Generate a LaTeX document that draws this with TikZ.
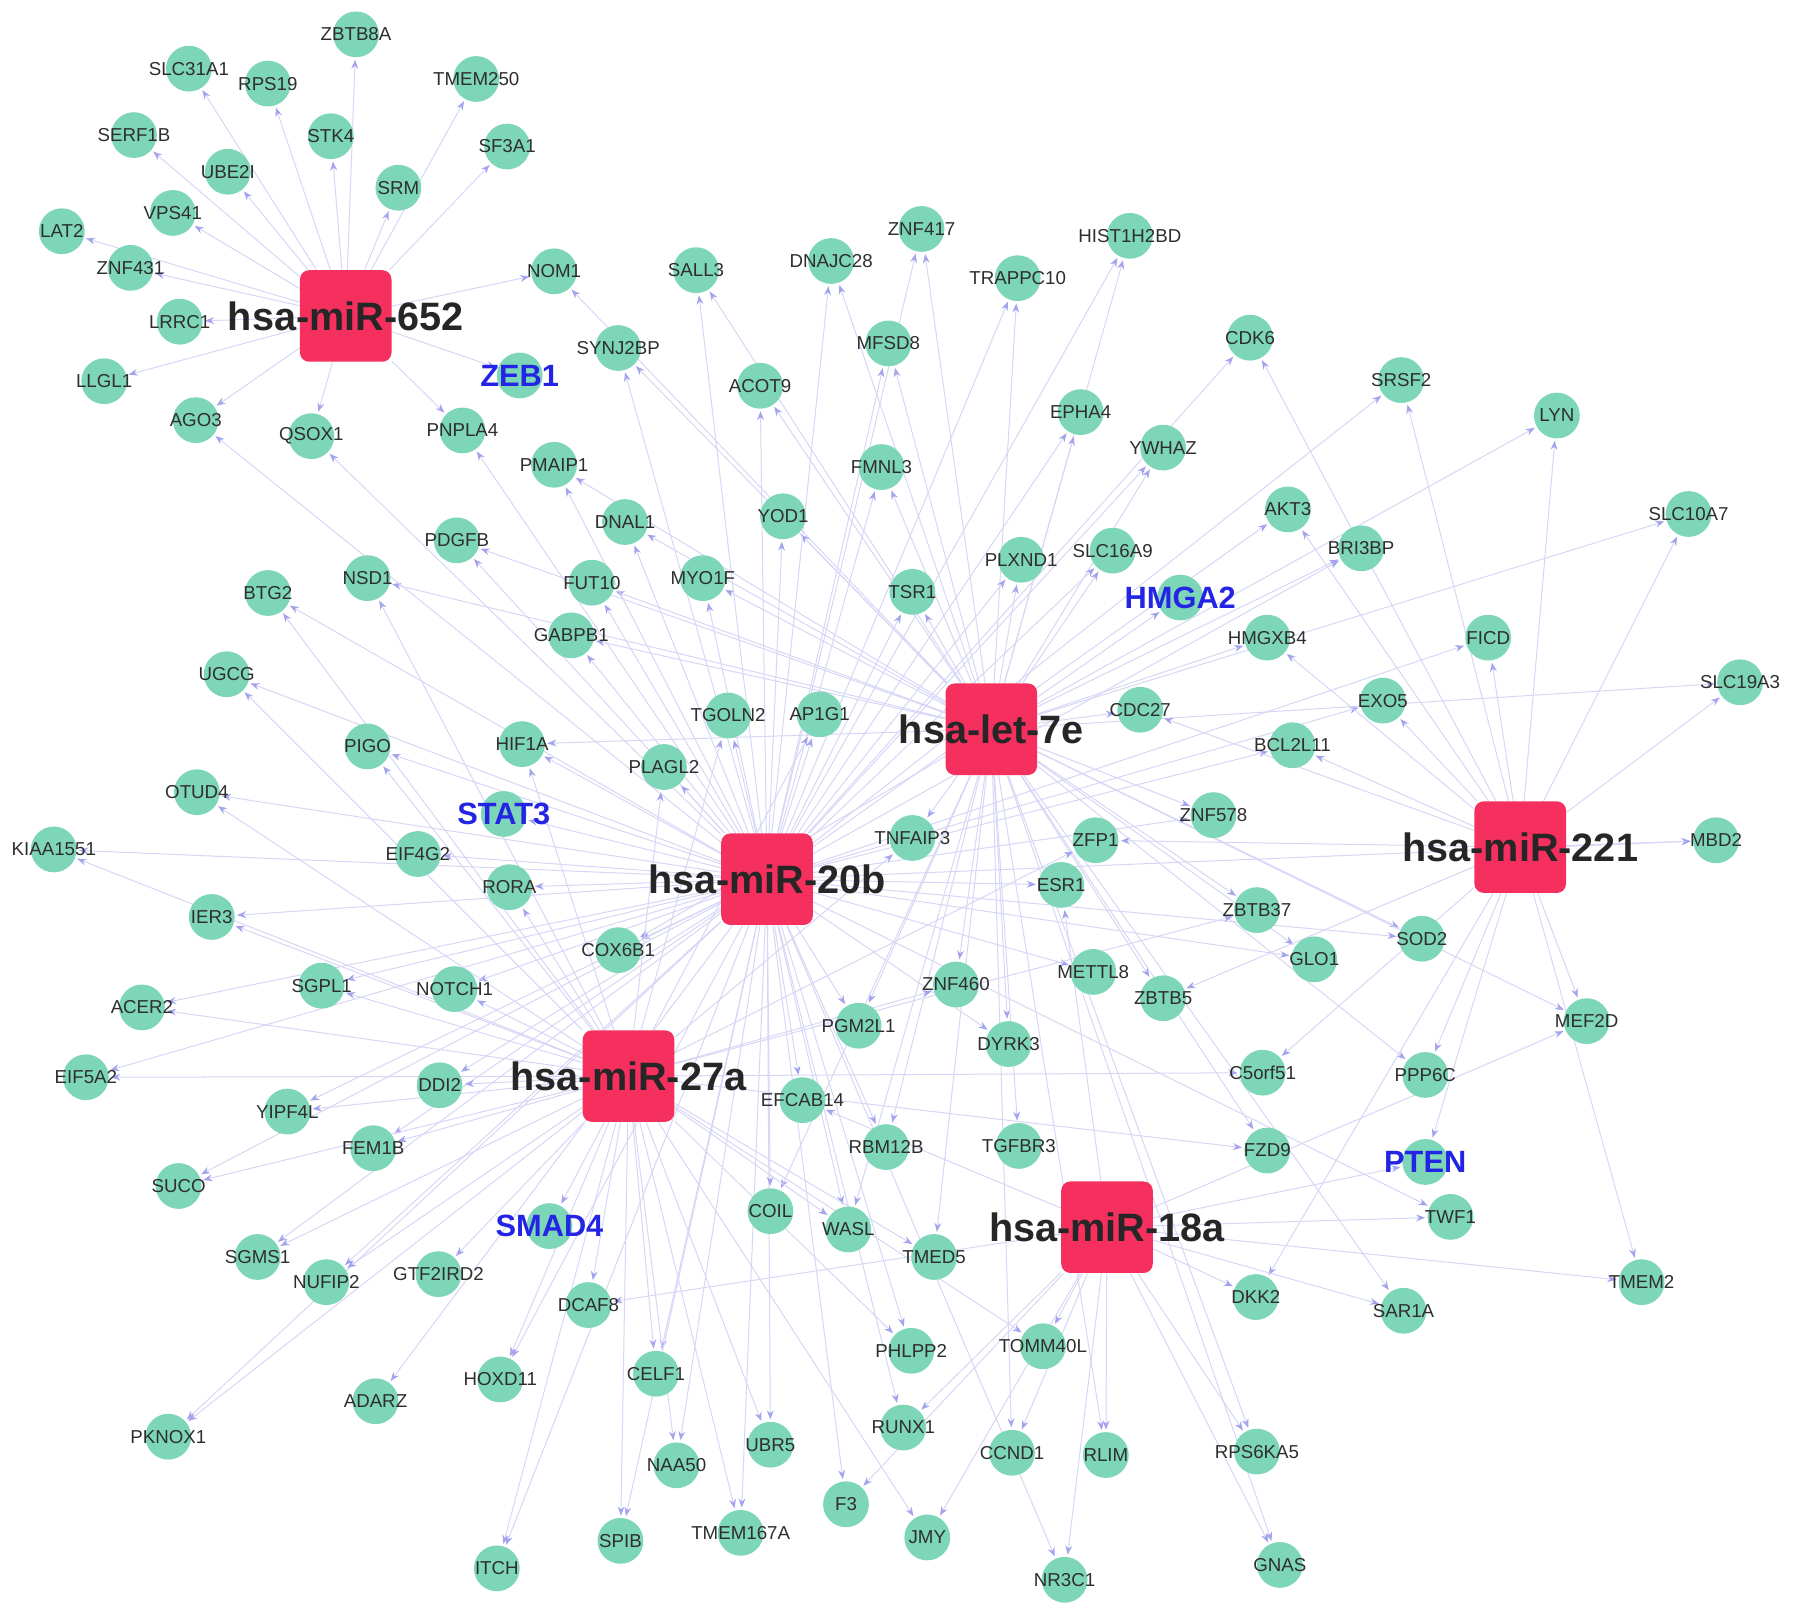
\documentclass[tikz,border=0pt]{standalone}
\usepackage{fontspec}
\setmainfont{Liberation Sans}
\usepackage{tikz}
\usetikzlibrary{arrows.meta,calc}
\definecolor{genefill}{HTML}{7ED6B9}
\definecolor{hubfill}{HTML}{F5305F}
\definecolor{edgecol}{HTML}{D6D6F6}
\definecolor{tipcol}{HTML}{A4A4EE}
\definecolor{keyblue}{HTML}{2424E4}
\definecolor{txtcol}{HTML}{2E2E2E}
\pgfdeclarelayer{bg}
\pgfsetlayers{bg,main}
\newcommand{\hubedges}[2]{
    % one arrow from the hub to every target
    \foreach \g in {#2} {
        \draw[edge] (#1) -- (\g);
    }
}

\begin{document}
\begin{tikzpicture}[x=0.02cm,y=-0.02cm,
    gene/.style={circle, fill=genefill, minimum size=0.8cm, inner sep=0pt},
    genetext/.style={font=\fontsize{9.3}{10}\selectfont, text=txtcol, inner sep=0pt},
    keytext/.style={font=\bfseries\fontsize{15.3}{17}\selectfont, text=keyblue, inner sep=0pt},
    hub/.style={rectangle, rounded corners=1.6mm, fill=hubfill, minimum size=1.6cm, inner sep=0pt},
    hubtext/.style={font=\bfseries\fontsize{19.7}{22}\selectfont, text=black!85, inner sep=0pt},
    edge/.style={draw=edgecol, line width=0.5pt, shorten >=1pt, -{Stealth[length=4.5pt,width=3.4pt,color=tipcol]}}]

\useasboundingbox (0,0) rectangle (1568,1417);

% -------------------------
% miRNA hubs
% -------------------------
\node[hub, label={[hubtext]center:hsa-miR-652}] (mir652) at (302,276) {};
\node[hub, label={[hubtext]center:hsa-let-7e}]  (let7e)  at (866,637) {};
\node[hub, label={[hubtext]center:hsa-miR-20b}] (mir20b) at (670,768) {};
\node[hub, label={[hubtext]center:hsa-miR-221}] (mir221) at (1328,740) {};
\node[hub, label={[hubtext]center:hsa-miR-27a}] (mir27a) at (549,940) {};
\node[hub, label={[hubtext]center:hsa-miR-18a}] (mir18a) at (967,1072) {};

% -------------------------
% Target genes
% -------------------------
\foreach \g/\x/\y in {ZBTB8A/311/30, SLC31A1/165/60, RPS19/234/73, TMEM250/416/69,
    SERF1B/117/118, STK4/289/119, UBE2I/199/150, SF3A1/443/128, SRM/348/164,
    VPS41/151/186, LAT2/54/202, ZNF431/114/234, NOM1/484/237, LRRC1/157/281,
    LLGL1/91/333, AGO3/171/367, QSOX1/272/381, PNPLA4/404/376, SYNJ2BP/540/304,
    SALL3/608/236, DNAJC28/726/228, ZNF417/805/200, HIST1H2BD/987/206,
    TRAPPC10/889/243, MFSD8/776/300, CDK6/1092/295, ACOT9/664/337, SRSF2/1224/332,
    EPHA4/944/360, YWHAZ/1016/391, LYN/1360/363, PMAIP1/484/406, FMNL3/770/408,
    AKT3/1125/445, DNAL1/546/456, YOD1/684/451, SLC10A7/1475/449, PDGFB/399/472,
    SLC16A9/972/481, BRI3BP/1189/479, PLXND1/892/489, NSD1/321/505, FUT10/517/509,
    MYO1F/614/505, TSR1/797/517, BTG2/234/518, GABPB1/499/555, HMGXB4/1107/557,
    FICD/1300/557, UGCG/198/589, SLC19A3/1520/596, EXO5/1208/612, TGOLN2/636/625,
    AP1G1/716/624, CDC27/996/620, PIGO/321/652, HIF1A/456/650, BCL2L11/1129/651,
    PLAGL2/580/670, OTUD4/172/692, ZNF578/1060/712, TNFAIP3/797/732, ZFP1/957/734,
    MBD2/1499/734, KIAA1551/47/742, EIF4G2/365/746, RORA/445/775, ESR1/927/773,
    IER3/185/801, ZBTB37/1098/795, SOD2/1242/820, COX6B1/540/830, GLO1/1148/838,
    METTL8/955/849, SGPL1/281/861, NOTCH1/397/864, ZNF460/835/860, ZBTB5/1016/872,
    ACER2/124/880, MEF2D/1386/892, PGM2L1/750/896, DYRK3/881/912, EIF5A2/75/941,
    DDI2/384/948, C5orf51/1103/937, PPP6C/1245/939, YIPF4L/251/971, EFCAB14/701/961,
    FEM1B/326/1003, RBM12B/774/1002, TGFBR3/890/1001, FZD9/1107/1005, SUCO/156/1036,
    COIL/673/1058, WASL/741/1074, TWF1/1267/1063, SGMS1/225/1098, TMED5/816/1098,
    NUFIP2/285/1120, GTF2IRD2/383/1113, TMEM2/1434/1120, DCAF8/514/1140,
    DKK2/1097/1133, SAR1A/1226/1145, PHLPP2/796/1180, TOMM40L/911/1176,
    CELF1/573/1200, HOXD11/437/1205, ADARZ/328/1224, RUNX1/789/1247, PKNOX1/147/1255,
    UBR5/673/1262, CCND1/884/1269, RLIM/966/1271, RPS6KA5/1098/1268, NAA50/591/1280,
    F3/739/1314, TMEM167A/647/1339, JMY/810/1343, SPIB/542/1346, ITCH/434/1370,
    GNAS/1118/1367, NR3C1/930/1380} {
    \node[gene, label={[genetext]center:\g}] (\g) at (\x,\y) {};
}

% key genes in blue
\foreach \g/\x/\y in {ZEB1/454/328, HMGA2/1031/522, STAT3/440/711, SMAD4/480/1071, PTEN/1245/1015} {
    \node[gene, label={[keytext]center:\g}] (\g) at (\x,\y) {};
}

% -------------------------
% Interactions
% -------------------------
\begin{pgfonlayer}{bg}
\hubedges{mir652}{ZBTB8A, SLC31A1, RPS19, TMEM250, SERF1B, STK4, UBE2I, SF3A1, SRM,
    VPS41, LAT2, ZNF431, NOM1, LRRC1, LLGL1, AGO3, QSOX1, PNPLA4, ZEB1}
\hubedges{let7e}{NOM1, SYNJ2BP, SALL3, DNAJC28, ZNF417, HIST1H2BD, TRAPPC10, MFSD8,
    ACOT9, LYN, EPHA4, YWHAZ, BRI3BP, SLC10A7, PLXND1, SLC16A9, TSR1, FMNL3, YOD1,
    DNAL1, PMAIP1, MYO1F, FUT10, GABPB1, PDGFB, NSD1, HIF1A, COX6B1, CDC27, HMGXB4,
    HMGA2, SLC19A3, ZNF578, TNFAIP3, ZBTB37, SOD2, GLO1, ZBTB5, ZNF460, PGM2L1, DYRK3,
    PPP6C, MEF2D, FZD9, SAR1A, COIL, WASL, RBM12B, TGFBR3, TMED5, CCND1, RLIM,
    RPS6KA5, GNAS}
\hubedges{mir20b}{AGO3, QSOX1, PNPLA4, PMAIP1, SYNJ2BP, SALL3, DNAJC28, ZNF417,
    HIST1H2BD, TRAPPC10, MFSD8, ACOT9, CDK6, SRSF2, EPHA4, YWHAZ, AKT3, BRI3BP, PLXND1,
    SLC16A9, TSR1, FMNL3, YOD1, DNAL1, MYO1F, FUT10, GABPB1, PDGFB, BTG2, UGCG, PIGO,
    HIF1A, PLAGL2, TGOLN2, AP1G1, OTUD4, STAT3, KIAA1551, EIF4G2, RORA, IER3, COX6B1,
    SGPL1, NOTCH1, ACER2, EIF5A2, DDI2, YIPF4L, FEM1B, SUCO, SGMS1, NUFIP2, ADARZ,
    PKNOX1, HOXD11, ITCH, CELF1, NAA50, SPIB, TMEM167A, UBR5, COIL, WASL, EFCAB14,
    RBM12B, PHLPP2, RUNX1, NR3C1, F3, BCL2L11, EXO5, FICD, MBD2, ZNF578, ESR1, SOD2,
    GLO1, METTL8, PGM2L1, DYRK3, TWF1}
\hubedges{mir27a}{NSD1, BTG2, UGCG, PIGO, HIF1A, PLAGL2, TGOLN2, AP1G1, OTUD4,
    KIAA1551, RORA, IER3, SGPL1, NOTCH1, ACER2, EIF5A2, DDI2, YIPF4L, FEM1B, SUCO,
    SGMS1, NUFIP2, GTF2IRD2, SMAD4, PKNOX1, HOXD11, DCAF8, ITCH, CELF1, NAA50, SPIB,
    TMEM167A, UBR5, WASL, TMED5, PHLPP2, TOMM40L, JMY, TNFAIP3, ZFP1, ZBTB37, ZNF460,
    C5orf51, FZD9}
\hubedges{mir221}{CDK6, SRSF2, LYN, AKT3, SLC10A7, CDC27, BCL2L11, EXO5, SLC19A3,
    HMGXB4, FICD, MBD2, ZFP1, ZBTB5, C5orf51, PPP6C, MEF2D, PTEN, TMEM2, DKK2}
\hubedges{mir18a}{DCAF8, EFCAB14, TOMM40L, RUNX1, CCND1, RLIM, RPS6KA5, GNAS, NR3C1,
    JMY, F3, ESR1, MEF2D, PTEN, TWF1, TMEM2, DKK2, SAR1A}
\end{pgfonlayer}

\end{tikzpicture}
\end{document}
